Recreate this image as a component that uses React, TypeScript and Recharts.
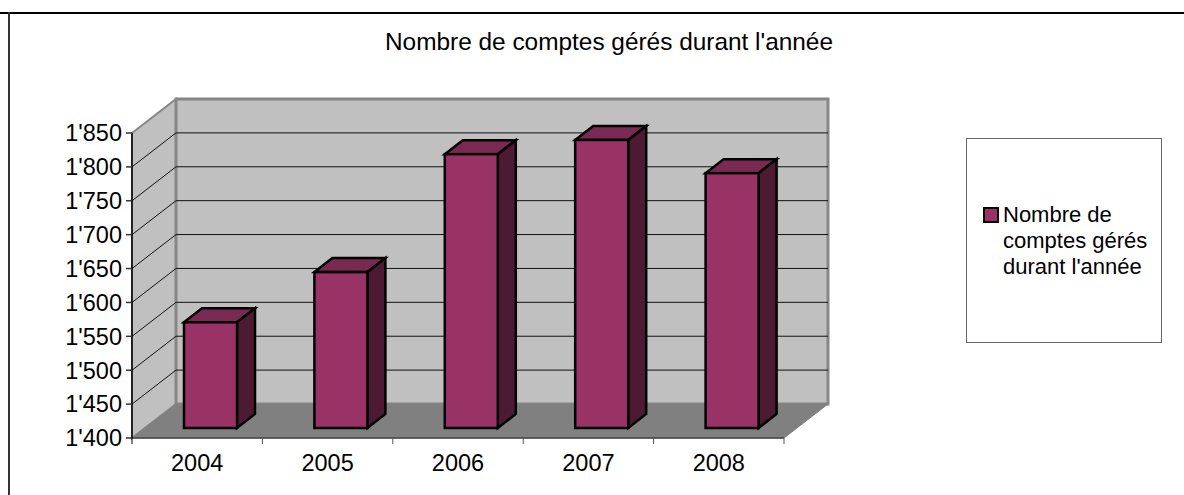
import { Bar, BarChart, CartesianGrid, Legend, XAxis, YAxis, usePlotArea } from "recharts";

// Données
const annees = ["2004", "2005", "2006", "2007", "2008"];
const comptes = [1556, 1630, 1804, 1825, 1776];
const ticksY = [1400, 1450, 1500, 1550, 1600, 1650, 1700, 1750, 1800, 1850];
const lignesGrille = [1450, 1500, 1550, 1600, 1650, 1700, 1750, 1800];
const titre = "Nombre de comptes gérés durant l'année";

const donnees = annees.map((annee, i) => ({ annee, comptes: comptes[i] }));

// Perspective du faux 3D : décalage de la paroi du fond
const PROF_X = 44;
const PROF_Y = 34;
const POLICE = "'Liberation Sans', Arial, sans-serif";
const BORDEAUX = "#993366";

function Parois() {
  const zone = usePlotArea();
  if (!zone) return null;
  const { x, y, width: l, height: h } = zone;
  return (
    <g>
      <polygon
        points={`${x},${y} ${x + PROF_X},${y - PROF_Y} ${x + PROF_X},${y + h - PROF_Y} ${x},${y + h}`}
        fill="#c0c0c0" stroke="#868686" strokeWidth={2}
      />
      <polygon
        points={`${x + PROF_X},${y - PROF_Y} ${x + l + PROF_X},${y - PROF_Y} ${x + l + PROF_X},${y + h - PROF_Y} ${x + PROF_X},${y + h - PROF_Y}`}
        fill="#c0c0c0" stroke="#868686" strokeWidth={3}
      />
      <polygon
        points={`${x},${y + h} ${x + PROF_X},${y + h - PROF_Y} ${x + l + PROF_X},${y + h - PROF_Y} ${x + l},${y + h}`}
        fill="#808080" stroke="#808080" strokeWidth={1}
      />
    </g>
  );
}

// Ligne de grille : diagonale sur la paroi gauche, puis horizontale au fond
function LigneGrille(p: any) {
  return (
    <g key={p.key}>
      <line x1={p.x1} y1={p.y1} x2={p.x1 + PROF_X} y2={p.y1 - PROF_Y} stroke="#111" strokeWidth={1} />
      <line x1={p.x1 + PROF_X} y1={p.y1 - PROF_Y} x2={p.x2 + PROF_X} y2={p.y1 - PROF_Y} stroke="#111" strokeWidth={1} />
    </g>
  );
}

function Barre3D(p: any) {
  const { x: x0, y: y0, width: l, height: h } = p;
  const dx = 18;
  const dy = 14;
  const x = x0 + 13;
  const y = y0 - 10;
  return (
    <g stroke="#000" strokeWidth={2.5} strokeLinejoin="miter">
      <polygon points={`${x},${y} ${x + dx},${y - dy} ${x + l + dx},${y - dy} ${x + l},${y}`} fill="#7a2952" />
      <polygon points={`${x + l},${y} ${x + l + dx},${y - dy} ${x + l + dx},${y + h - dy} ${x + l},${y + h}`} fill="#4d1a33" />
      <rect x={x} y={y} width={l} height={h} fill={BORDEAUX} />
    </g>
  );
}

function TickAnnee(p: any) {
  const { x, y, payload, index } = p;
  const pas = 130.4;
  const haut = y - 8;
  return (
    <g>
      <line x1={x - pas / 2} y1={haut} x2={x - pas / 2} y2={haut + 6} stroke={index === 0 ? "#000" : "#555"} />
      {index === annees.length - 1 && (
        <line x1={x + pas / 2} y1={haut} x2={x + pas / 2} y2={haut + 6} stroke="#555" />
      )}
      <text x={x} y={haut + 33} textAnchor="middle" fontSize={23.5} fontFamily={POLICE} fill="#000">
        {payload.value}
      </text>
    </g>
  );
}

function Legende({ payload }: any) {
  const item = payload?.[0];
  return (
    <div
      style={{
        boxSizing: "border-box", width: 196, height: 205, border: "1px solid #666", background: "#fff",
        display: "flex", alignItems: "center", paddingLeft: 16,
      }}
    >
      <span
        style={{
          alignSelf: "flex-start", marginTop: 68, width: 16, height: 16, flexShrink: 0, boxSizing: "border-box",
          background: BORDEAUX, border: "2px solid #000",
        }}
      />
      <span style={{ marginLeft: 4, width: 158, fontFamily: POLICE, fontSize: 22, lineHeight: "26px", color: "#000" }}>
        {item?.value}
      </span>
    </div>
  );
}

export default function App() {
  return (
    <div style={{ position: "relative", width: 1184, height: 495, background: "#fff", overflow: "hidden" }}>
      <style>{`body{margin:0}`}</style>
      <div style={{ position: "absolute", left: 0, top: 12, width: 1184, height: 2, background: "#000" }} />
      <div style={{ position: "absolute", left: 8, top: 12, width: 2, height: 483, background: "#333" }} />
      <BarChart
        width={1184}
        height={495}
        data={donnees}
        margin={{ top: 133, right: 204, bottom: 27, left: 72 }}
        style={{ position: "absolute", left: 0, top: 0 }}
      >
        <Parois />
        <CartesianGrid vertical={false} horizontalValues={lignesGrille} horizontal={LigneGrille} zIndex={1} />
        <XAxis
          dataKey="annee"
          height={30}
          tick={TickAnnee}
          tickLine={false}
          axisLine={{ stroke: "#444", strokeWidth: 1.5 }}
          interval={0}
        />
        <YAxis
          domain={[1400, 1850]}
          ticks={ticksY}
          interval={0}
          width={60}
          tickFormatter={(v: number) => `1'${String(v).slice(1)}`}
          tick={{ fill: "#000", fontSize: 23.5, fontFamily: POLICE }}
          tickLine={{ stroke: "#333", strokeWidth: 1.5 }}
          tickSize={6}
          tickMargin={4}
          axisLine={{ stroke: "#000", strokeWidth: 1.5 }}
        />
        <Bar dataKey="comptes" name={titre} fill={BORDEAUX} barSize={53} shape={Barre3D} isAnimationActive={false} />
        <Legend
          layout="horizontal"
          verticalAlign="middle"
          align="right"
          content={<Legende />}
          wrapperStyle={{ left: 966, top: 138, width: 196, height: 205, margin: 0 }}
        />
        <text x={609} y={50} textAnchor="middle" fontSize={24.4} fontFamily={POLICE} fill="#000">
          {titre}
        </text>
      </BarChart>
    </div>
  );
}
